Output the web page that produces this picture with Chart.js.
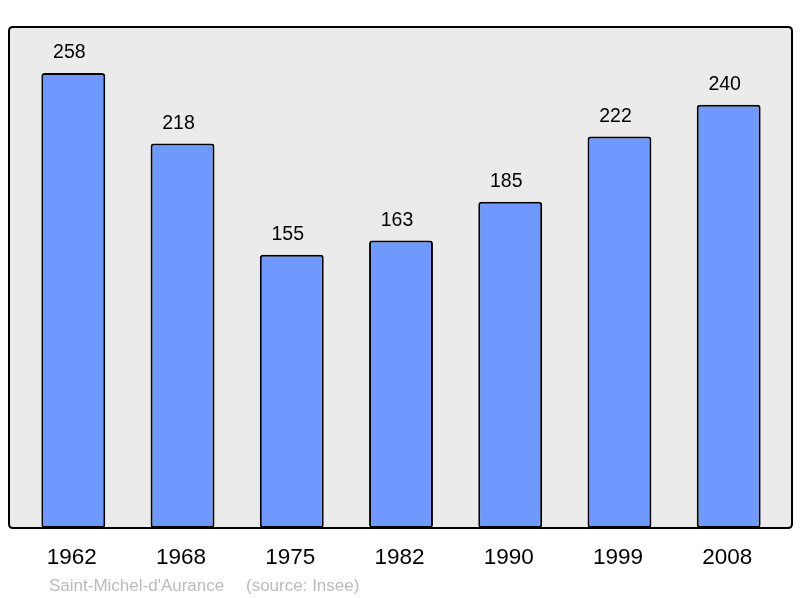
<!DOCTYPE html>
<html>
<head>
<meta charset="utf-8">
<script src="https://cdn.jsdelivr.net/npm/chart.js@4.4.0/dist/chart.umd.min.js"></script>
<style>
    html, body { margin: 0; padding: 0; background: #ffffff; }
    #wrap { width: 800px; height: 598px; }
</style>
</head>
<body>
<div id="wrap"><canvas id="popChart" width="800" height="598"></canvas></div>
<script>
var years = ["1962", "1968", "1975", "1982", "1990", "1999", "2008"];
var population = [258, 218, 155, 163, 185, 222, 240];
var placeName = "Saint-Michel-d'Aurance";
var sourceText = "(source: Insee)";

var FONT = "'Liberation Sans', Arial, sans-serif";

// grey frame behind the bars, year labels and the credit line under it
var framePlugin = {
    id: "frame",
    beforeDatasetsDraw: function(chart) {
        var ctx = chart.ctx;
        ctx.save();
        roundRect(ctx, 9, 27, 783, 501, 4);
        ctx.fillStyle = "#ebebeb";
        ctx.fill();
        ctx.restore();
    },
    afterDatasetsDraw: function(chart) {
        var ctx = chart.ctx;
        var xScale = chart.scales.x;
        var yScale = chart.scales.y;
        var meta = chart.getDatasetMeta(0);

        ctx.save();
        roundRect(ctx, 9, 27, 783, 501, 4);
        ctx.lineWidth = 2;
        ctx.strokeStyle = "#000000";
        ctx.stroke();

        // values above bars
        ctx.fillStyle = "#000000";
        ctx.textAlign = "center";
        ctx.textBaseline = "alphabetic";
        ctx.font = "19.5px " + FONT;
        for (var i = 0; i < population.length; i++) {
            var bar = meta.data[i];
            ctx.fillText(String(population[i]), bar.x - 4, yScale.getPixelForValue(population[i]) - 15);
        }

        // year labels
        ctx.font = "22.5px " + FONT;
        for (var j = 0; j < years.length; j++) {
            ctx.fillText(years[j], xScale.getPixelForValue(j) - 1.5, 564);
        }

        ctx.textAlign = "left";
        ctx.font = "17px " + FONT;
        ctx.fillStyle = "#bbbbbb";
        ctx.fillText(placeName, 49, 591);
        ctx.fillText(sourceText, 246, 591);
        ctx.restore();
    }
};

function roundRect(ctx, x, y, w, h, r) {
    ctx.beginPath();
    ctx.moveTo(x + r, y);
    ctx.lineTo(x + w - r, y);
    ctx.quadraticCurveTo(x + w, y, x + w, y + r);
    ctx.lineTo(x + w, y + h - r);
    ctx.quadraticCurveTo(x + w, y + h, x + w - r, y + h);
    ctx.lineTo(x + r, y + h);
    ctx.quadraticCurveTo(x, y + h, x, y + h - r);
    ctx.lineTo(x, y + r);
    ctx.quadraticCurveTo(x, y, x + r, y);
    ctx.closePath();
}

var ctx = document.getElementById("popChart").getContext("2d");
var popChart = new Chart(ctx, {
    type: "bar",
    data: {
        labels: years,
        datasets: [{
            data: population,
            backgroundColor: "#7099ff",
            borderColor: "#000000",
            borderWidth: 2,
            borderRadius: 3,
            borderSkipped: false,
            categoryPercentage: 0.585,
            barPercentage: 1.0
        }]
    },
    options: {
        responsive: false,
        animation: false,
        devicePixelRatio: 1,
        layout: {
            padding: { left: 18.7, right: 16.7, top: 27, bottom: 70 }
        },
        plugins: {
            legend: { display: false },
            tooltip: { enabled: false }
        },
        scales: {
            x: { display: false },
            y: { display: false, min: 0, max: 284.1 }
        }
    },
    plugins: [framePlugin]
});
</script>
</body>
</html>
